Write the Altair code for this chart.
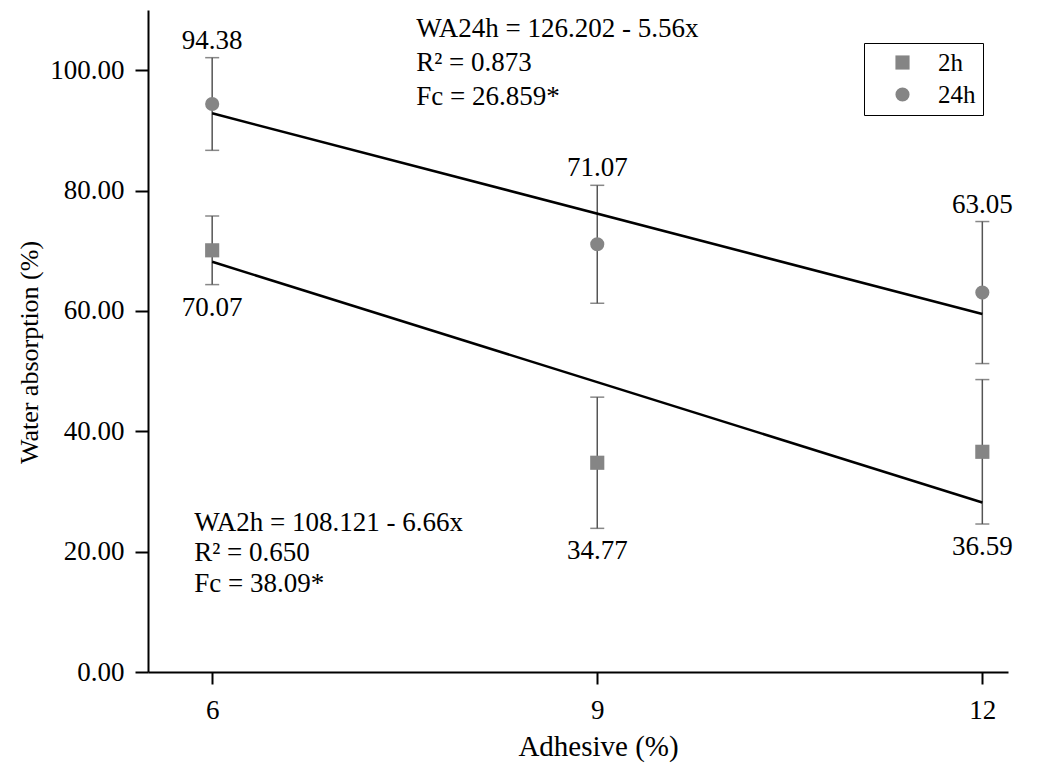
import altair as alt
import pandas as pd

# ---- data ----
adhesive = [6, 9, 12]
wa2h_mean = [70.07, 34.77, 36.59]
wa2h_sd = [5.7, 10.9, 12.0]
wa24h_mean = [94.38, 71.07, 63.05]
wa24h_sd = [7.7, 9.8, 11.8]

fit_x = [6, 12]
fit_2h = [68.16, 28.16]
fit_24h = [92.84, 59.48]

eq_24h = ["WA24h = 126.202 - 5.56x", "R² = 0.873", "Fc = 26.859*"]
eq_2h = ["WA2h = 108.121 - 6.66x", "R² = 0.650", "Fc = 38.09*"]
series_names = ["2h", "24h"]

# annotation anchors (data units)
eq24_x, eq24_y, eq24_step = 7.59, 106.9, 5.7
eq2_x, eq2_y, eq2_step = 5.86, 24.8, 5.1

FONT = "Liberation Serif"
FS = 27
GRAY = "#858585"
BAR = "#555555"

rows = []
for s, means, sds in [("2h", wa2h_mean, wa2h_sd), ("24h", wa24h_mean, wa24h_sd)]:
    for x, m, sd in zip(adhesive, means, sds):
        rows.append({"series": s, "x": x, "mean": m, "lo": m - sd, "hi": m + sd,
                     "label": f"{m:.2f}"})
pts = pd.DataFrame(rows)

lines = pd.DataFrame(
    [{"series": "2h", "x": x, "y": y} for x, y in zip(fit_x, fit_2h)]
    + [{"series": "24h", "x": x, "y": y} for x, y in zip(fit_x, fit_24h)]
)

ann = pd.DataFrame(
    [{"x": eq24_x, "y": eq24_y - i * eq24_step, "t": t} for i, t in enumerate(eq_24h)]
    + [{"x": eq2_x, "y": eq2_y - i * eq2_step, "t": t} for i, t in enumerate(eq_2h)]
)

xscale = alt.Scale(domain=[5.5, 12.2], nice=False, zero=False)
yscale = alt.Scale(domain=[0, 110], nice=False)

x_axis = alt.Axis(values=[6, 9, 12], format="d", tickSize=12, labelPadding=13,
                  titleX=450, titleY=74, titleBaseline="middle", titleAlign="center",
                  titleFontSize=29, grid=False)
y_axis = alt.Axis(values=[0, 20, 40, 60, 80, 100], format=".2f", tickSize=13,
                  labelPadding=11, titleX=-119, titleY=342, titleAngle=270,
                  titleBaseline="middle", titleAlign="center", grid=False)


def X(f):
    return alt.X(f, type="quantitative", scale=xscale, axis=x_axis, title="Adhesive (%)")


def Y(f):
    return alt.Y(f, type="quantitative", scale=yscale, axis=y_axis, title="Water absorption (%)")


base = alt.Chart(pts)

err = base.mark_rule(color=BAR, strokeWidth=1.5).encode(x=X("x"), y=Y("lo"), y2="hi")
cap_lo = base.mark_tick(orient="horizontal", size=14, thickness=1.5, color=BAR).encode(
    x=X("x"), y=Y("lo"))
cap_hi = base.mark_tick(orient="horizontal", size=14, thickness=1.5, color=BAR).encode(
    x=X("x"), y=Y("hi"))

fit = alt.Chart(lines).mark_line(color="black", strokeWidth=2.5).encode(
    x=X("x"), y=Y("y"), detail="series:N")

points = base.mark_point(filled=True, size=200, opacity=1, color=GRAY).encode(
    x=X("x"), y=Y("mean"),
    shape=alt.Shape("series:N",
                    scale=alt.Scale(domain=series_names, range=["square", "circle"]),
                    legend=alt.Legend(title=None, orient="none", legendX=716, legendY=33,
                                      padding=7, strokeColor="black", fillColor="white",
                                      symbolOffset=19, labelOffset=23, rowPadding=6,
                                      labelFont=FONT, labelFontSize=25, labelColor="black",
                                      symbolSize=200, symbolFillColor=GRAY,
                                      symbolStrokeWidth=0)),
)

lab_hi = base.transform_filter(alt.datum.series == "24h").mark_text(
    font=FONT, fontSize=FS, color="black", baseline="middle", dy=-17).encode(
    x=X("x"), y=Y("hi"), text="label:N")
lab_lo = base.transform_filter(alt.datum.series == "2h").mark_text(
    font=FONT, fontSize=FS, color="black", baseline="middle", dy=23).encode(
    x=X("x"), y=Y("lo"), text="label:N")

eqs = alt.Chart(ann).mark_text(font=FONT, fontSize=FS, color="black", align="left",
                               baseline="middle").encode(
    x=X("x"), y=Y("y"), text="t:N")

chart = alt.layer(err, cap_lo, cap_hi, fit, points, lab_hi, lab_lo, eqs).properties(
    width=860, height=662,
    autosize=alt.AutoSizeParams(type="none"),
    padding={"left": 140, "top": 2, "right": 20, "bottom": 95},
    background="white",
).configure_view(stroke=None).configure_axis(
    domainColor="black", domainWidth=2, tickColor="black", tickWidth=2,
    labelFont=FONT, labelFontSize=FS, labelColor="black",
    titleFont=FONT, titleFontSize=26, titleColor="black", titleFontWeight="normal",
)

chart.save("out.html", embed_options={"renderer": "svg", "actions": False})
